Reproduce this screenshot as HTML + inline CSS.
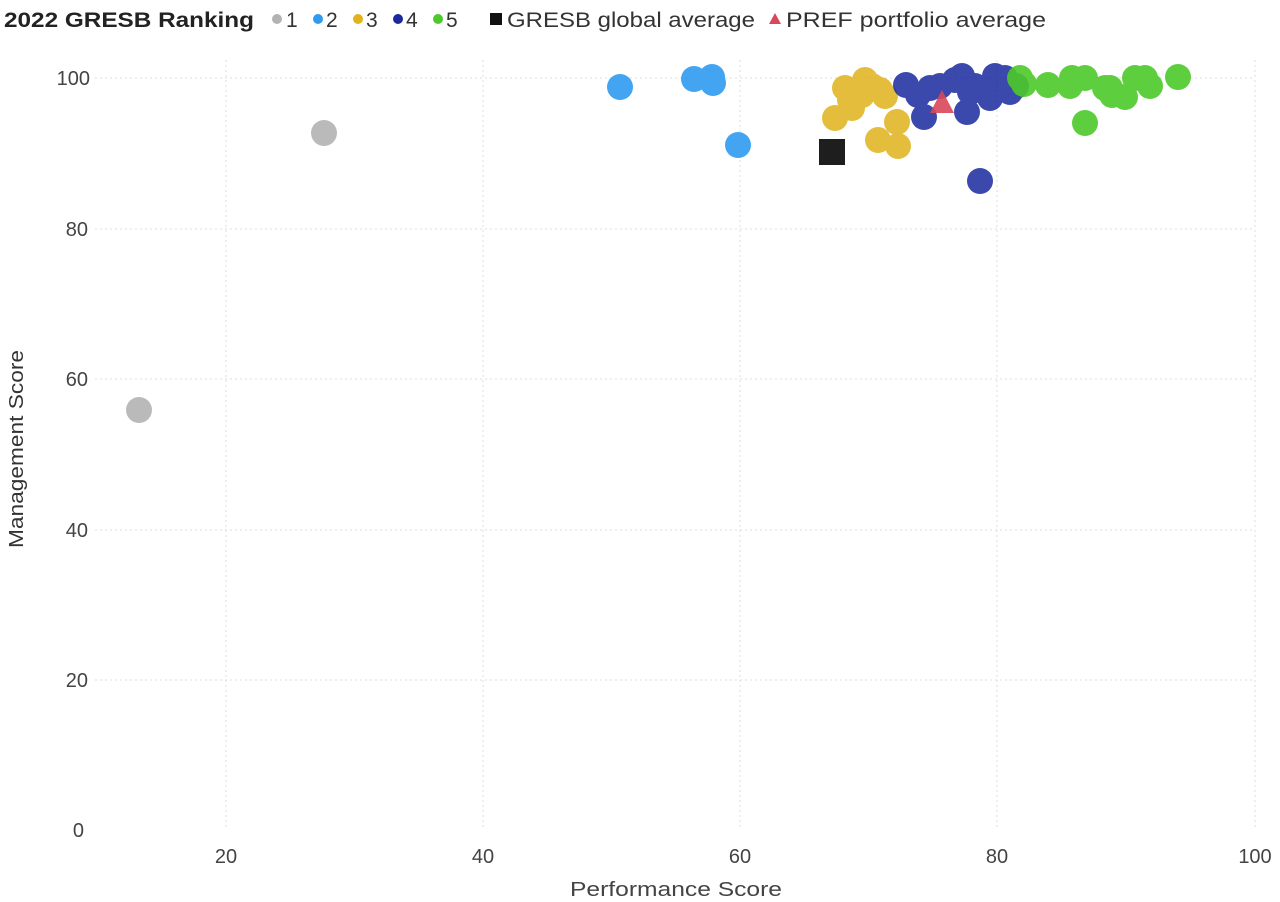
<!DOCTYPE html>
<html><head><style>
html,body{margin:0;padding:0;background:#fff;}
svg{display:block;font-family:"Liberation Sans","DejaVu Sans",sans-serif;}
</style></head><body>
<svg width="1280" height="902" viewBox="0 0 1280 902">
<g font-size="21" fill="#222">
<text x="4" y="27" font-weight="bold" textLength="250" lengthAdjust="spacingAndGlyphs">2022 GRESB Ranking</text>
<circle cx="277" cy="19" r="5" fill="#b3b3b3"/><text x="286" y="27" fill="#333">1</text>
<circle cx="318" cy="19" r="5" fill="#2f9bf0"/><text x="326" y="27" fill="#333">2</text>
<circle cx="358" cy="19" r="5" fill="#e0b21c"/><text x="366" y="27" fill="#333">3</text>
<circle cx="398" cy="19" r="5" fill="#1a2a9e"/><text x="406" y="27" fill="#333">4</text>
<circle cx="438" cy="19" r="5" fill="#4cc92a"/><text x="446" y="27" fill="#333">5</text>
<rect x="490" y="13" width="12" height="12" fill="#111"/><text x="507" y="27" fill="#333" textLength="248" lengthAdjust="spacingAndGlyphs">GRESB global average</text>
<polygon points="775,13 781,24 769,24" fill="#d9475a"/><text x="786" y="27" fill="#333" textLength="260" lengthAdjust="spacingAndGlyphs">PREF portfolio average</text>
</g>
<g stroke="#ddd" stroke-width="1" stroke-dasharray="2,3">
<line x1="95" x2="1255" y1="78" y2="78"/><line x1="95" x2="1255" y1="229" y2="229"/>
<line x1="95" x2="1255" y1="379" y2="379"/><line x1="95" x2="1255" y1="530" y2="530"/>
<line x1="95" x2="1255" y1="680" y2="680"/>
<line x1="226" x2="226" y1="60" y2="830"/><line x1="483" x2="483" y1="60" y2="830"/>
<line x1="740" x2="740" y1="60" y2="830"/><line x1="997" x2="997" y1="60" y2="830"/>
<line x1="1255" x2="1255" y1="60" y2="830"/>
</g>
<g font-size="20" fill="#444" text-anchor="end">
<text x="90" y="85">100</text><text x="88" y="236">80</text><text x="88" y="386">60</text>
<text x="88" y="537">40</text><text x="88" y="687">20</text><text x="84" y="837">0</text>
</g>
<g font-size="20" fill="#444" text-anchor="middle">
<text x="226" y="863">20</text><text x="483" y="863">40</text><text x="740" y="863">60</text>
<text x="997" y="863">80</text><text x="1255" y="863">100</text>
<text x="676" y="896" textLength="212" lengthAdjust="spacingAndGlyphs">Performance Score</text>
</g>
<text transform="translate(23,449) rotate(-90)" font-size="20" fill="#333" text-anchor="middle" textLength="198" lengthAdjust="spacingAndGlyphs">Management Score</text>
<g fill="#b3b3b3" opacity="0.9"><circle cx="139" cy="410" r="13"/><circle cx="324" cy="133" r="13"/></g>
<g fill="#2f9bf0" opacity="0.9"><circle cx="620" cy="87" r="13"/><circle cx="694" cy="79" r="13"/><circle cx="712" cy="77" r="13"/><circle cx="713" cy="83" r="13"/><circle cx="738" cy="145" r="13"/></g>
<g fill="#e0b21c" opacity="0.85">
<circle cx="845" cy="88" r="13"/><circle cx="865" cy="80" r="13"/><circle cx="850" cy="100" r="13"/><circle cx="862" cy="95" r="13"/><circle cx="835" cy="118" r="13"/><circle cx="852" cy="108" r="13"/><circle cx="885" cy="96" r="13"/><circle cx="880" cy="90" r="13"/><circle cx="878" cy="140" r="13"/><circle cx="898" cy="146" r="13"/><circle cx="897" cy="122" r="13"/><circle cx="872" cy="86" r="13"/>
</g>
<rect x="819" y="139" width="26" height="26" fill="#1e1e1e"/>
<g fill="#1a2a9e" opacity="0.85">
<circle cx="906" cy="85" r="13"/><circle cx="930" cy="88" r="13"/><circle cx="918" cy="95" r="13"/><circle cx="924" cy="117" r="13"/><circle cx="967" cy="112" r="13"/><circle cx="955" cy="80" r="13"/><circle cx="962" cy="76" r="13"/><circle cx="995" cy="76" r="13"/><circle cx="1005" cy="78" r="13"/><circle cx="1010" cy="92" r="13"/><circle cx="985" cy="92" r="13"/><circle cx="970" cy="92" r="13"/><circle cx="990" cy="98" r="13"/><circle cx="1016" cy="86" r="13"/><circle cx="940" cy="86" r="13"/><circle cx="975" cy="86" r="13"/><circle cx="980" cy="181" r="13"/>
</g>
<g fill="#4cc92a" opacity="0.9">
<circle cx="1020" cy="78" r="13"/><circle cx="1048" cy="85" r="13"/><circle cx="1072" cy="78" r="13"/><circle cx="1085" cy="78" r="13"/><circle cx="1070" cy="86" r="13"/><circle cx="1105" cy="88" r="13"/><circle cx="1112" cy="95" r="13"/><circle cx="1125" cy="97" r="13"/><circle cx="1135" cy="78" r="13"/><circle cx="1145" cy="78" r="13"/><circle cx="1150" cy="86" r="13"/><circle cx="1178" cy="77" r="13"/><circle cx="1085" cy="123" r="13"/><circle cx="1110" cy="88" r="13"/><circle cx="1024" cy="84" r="13"/>
</g>
<polygon points="942,90 954,113 930,113" fill="#d9475a" opacity="0.9"/>
</svg>
</body></html>
